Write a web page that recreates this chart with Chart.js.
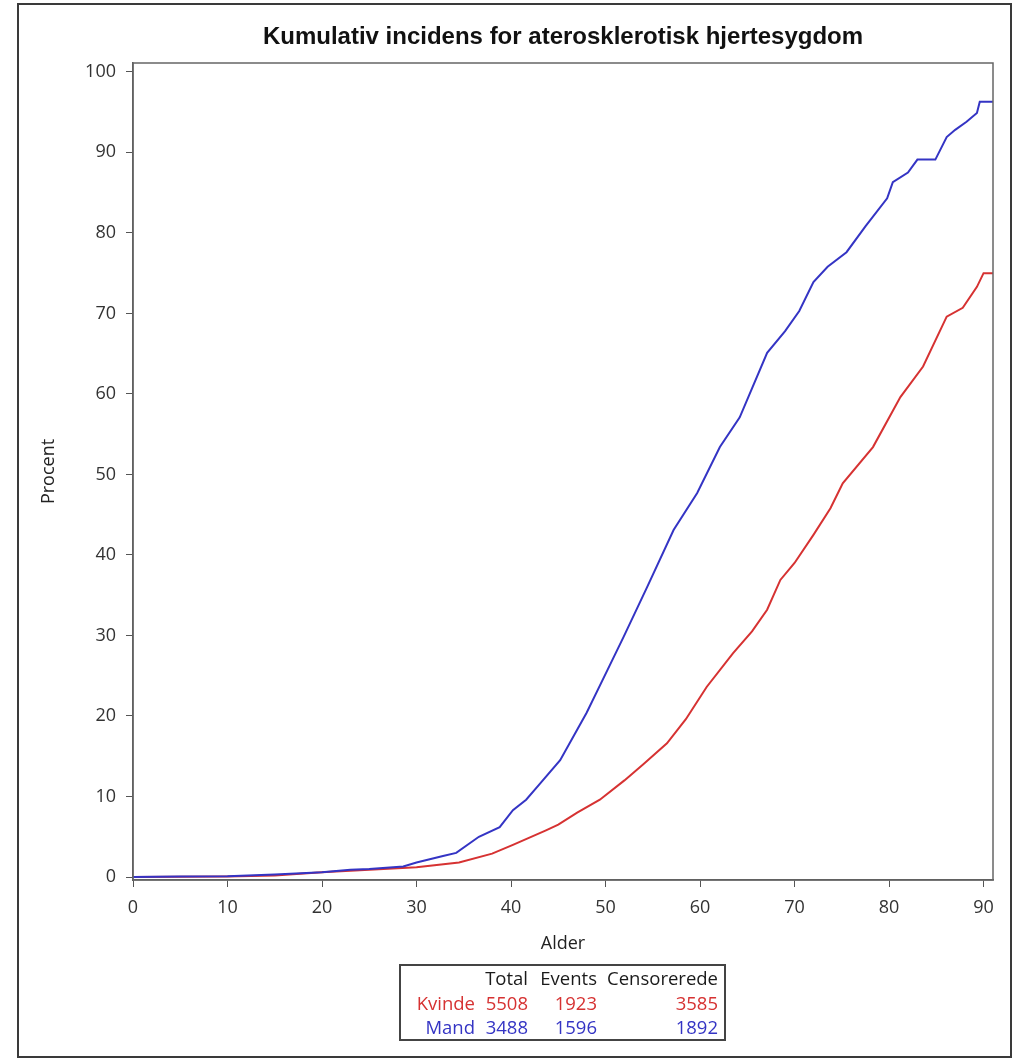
<!DOCTYPE html>
<html>
<head>
<meta charset="utf-8">
<script src="https://cdn.jsdelivr.net/npm/chart.js@4.4.1/dist/chart.umd.min.js"></script>
<style>
  body { margin: 0; background: #fff; }
  #wrap { position: relative; width: 1025px; height: 1058px; }
  #frame { position: absolute; left: 17px; top: 3px; width: 995px; height: 1055px; border: 2px solid #3a3a3a; box-sizing: border-box; pointer-events: none; }
  #stats { position: absolute; left: 399px; top: 964px; width: 327px; height: 77px; border: 2px solid #444; box-sizing: border-box; font-family: "Open Sans", sans-serif; font-size: 18.5px; }
  #stats table { border-collapse: collapse; }
  #stats td { text-align: right; padding: 0; height: 24.5px; line-height: 24.5px; white-space: nowrap; }
</style>
</head>
<body>
<div id="wrap">
  <canvas id="km-chart" width="1025" height="1058"></canvas>
  <div id="frame"></div>
  <div id="stats"><table id="stats-table"></table></div>
</div>
<script>
// Mand (blue)
var mandAge = [0, 5, 10, 15, 20, 23, 25, 28.6, 30, 32.8, 34.2, 36.6, 38.8, 40.2, 41.6, 43, 45.2, 48, 50.2, 51.9, 54.4, 57.2, 59.7, 62.1, 64.2, 67.1, 69, 70.5, 72, 73.5, 75.5, 77.5, 79.8, 80.4, 82, 83, 84.9, 86.1, 87, 88.2, 89.3, 89.6, 91];
var mandPct = [0, 0.05, 0.1, 0.3, 0.6, 0.9, 1.0, 1.3, 1.8, 2.6, 3.0, 5.0, 6.2, 8.3, 9.6, 11.5, 14.5, 20.4, 25.7, 29.8, 36.0, 43.1, 47.7, 53.4, 57.1, 65.1, 67.8, 70.3, 73.9, 75.8, 77.6, 80.8, 84.3, 86.3, 87.5, 89.1, 89.1, 91.9, 92.8, 93.8, 94.9, 96.3, 96.3];
// Kvinde (red)
var kvindeAge = [0, 10, 15, 20, 25, 30, 34.5, 38, 40.2, 43.7, 45, 47, 49.4, 52, 54, 56.5, 58.5, 60.7, 63.5, 65.5, 67.1, 68.5, 70, 72, 73.8, 75.1, 78.3, 81.2, 83.6, 86.1, 87.8, 89.3, 90, 91];
var kvindePct = [0, 0.05, 0.2, 0.6, 0.9, 1.2, 1.8, 2.9, 4.0, 5.8, 6.5, 8.0, 9.6, 12.0, 14.0, 16.6, 19.6, 23.6, 27.8, 30.5, 33.2, 36.9, 39.0, 42.5, 45.8, 48.9, 53.4, 59.6, 63.4, 69.6, 70.7, 73.3, 75.0, 75.0];

var xTicks = [0, 10, 20, 30, 40, 50, 60, 70, 80, 90];
var yTicks = [0, 10, 20, 30, 40, 50, 60, 70, 80, 90, 100];

// summary table
var statHeaders = ["Total", "Events", "Censorerede"];
var groups = ["Kvinde", "Mand"];
var totals = [5508, 3488];
var events = [1923, 1596];
var censored = [3585, 1892];
var groupColors = ["#d63232", "#3434c4"];

function toPoints(xs, ys) {
  return xs.map(function (x, i) { return { x: x, y: ys[i] }; });
}

// box around the plot area
var plotFrame = {
  id: 'plotFrame',
  afterDraw: function (chart) {
    var a = chart.chartArea, ctx = chart.ctx;
    ctx.save();
    ctx.strokeStyle = '#666';
    ctx.lineWidth = 1.5;
    ctx.strokeRect(a.left, a.top, a.right - a.left, a.bottom - a.top);
    ctx.restore();
  }
};

new Chart(document.getElementById("km-chart"), {
  type: 'line',
  data: {
    datasets: [
      {
        label: "Mand",
        data: toPoints(mandAge, mandPct),
        borderColor: groupColors[1],
        borderWidth: 2,
        pointRadius: 0,
        tension: 0
      },
      {
        label: "Kvinde",
        data: toPoints(kvindeAge, kvindePct),
        borderColor: groupColors[0],
        borderWidth: 2,
        pointRadius: 0,
        tension: 0
      }
    ]
  },
  options: {
    responsive: false,
    animation: false,
    layout: { padding: { left: 0, top: 0, right: 32, bottom: 0 } },
    plugins: {
      legend: { display: false },
      tooltip: { enabled: false },
      title: {
        display: true,
        fullSize: false,
        text: 'Kumulativ incidens for aterosklerotisk hjertesygdom',
        color: '#111',
        font: { family: 'Liberation Sans, Arial, sans-serif', size: 24, weight: 'bold' },
        padding: { top: 22.6, bottom: 11.6 }
      }
    },
    scales: {
      x: {
        type: 'linear',
        min: 0,
        max: 91,
        afterFit: function (s) { s.height = 178; },
        afterBuildTicks: function (s) { s.ticks = xTicks.map(function (v) { return { value: v }; }); },
        ticks: { color: '#333', padding: 10, maxRotation: 0, font: { family: 'Open Sans', size: 18 } },
        grid: { drawOnChartArea: false, drawTicks: true, tickLength: 7, color: '#555' },
        border: { color: '#555', width: 1.5 },
        title: { display: true, text: 'Alder', color: '#222', font: { family: 'Open Sans', size: 18 }, padding: { top: 0, bottom: 103 } }
      },
      y: {
        min: -0.37,
        max: 101.1,
        afterFit: function (s) { s.width = 133; },
        afterBuildTicks: function (s) { s.ticks = yTicks.map(function (v) { return { value: v }; }); },
        ticks: { color: '#333', padding: 10, font: { family: 'Open Sans', size: 18 } },
        grid: { drawOnChartArea: false, drawTicks: true, tickLength: 7, color: '#555' },
        border: { color: '#555', width: 1.5 },
        title: { display: true, text: 'Procent', color: '#222', font: { family: 'Open Sans', size: 18 }, padding: { top: 38, bottom: 0 } }
      }
    }
  },
  plugins: [plotFrame]
});

// summary table below the plot
var colWidths = [74, 53, 69, 121];
var tbl = document.getElementById('stats-table');
var head = '<tr style="color:#1a1a1a"><td style="width:' + colWidths[0] + 'px"></td>';
statHeaders.forEach(function (h, i) { head += '<td style="width:' + colWidths[i + 1] + 'px">' + h + '</td>'; });
head += '</tr>';
var rows = '';
groups.forEach(function (g, i) {
  rows += '<tr style="color:' + groupColors[i] + '"><td>' + g + '</td><td>' + totals[i] + '</td><td>' + events[i] + '</td><td>' + censored[i] + '</td></tr>';
});
tbl.innerHTML = head + rows;
</script>
</body>
</html>
